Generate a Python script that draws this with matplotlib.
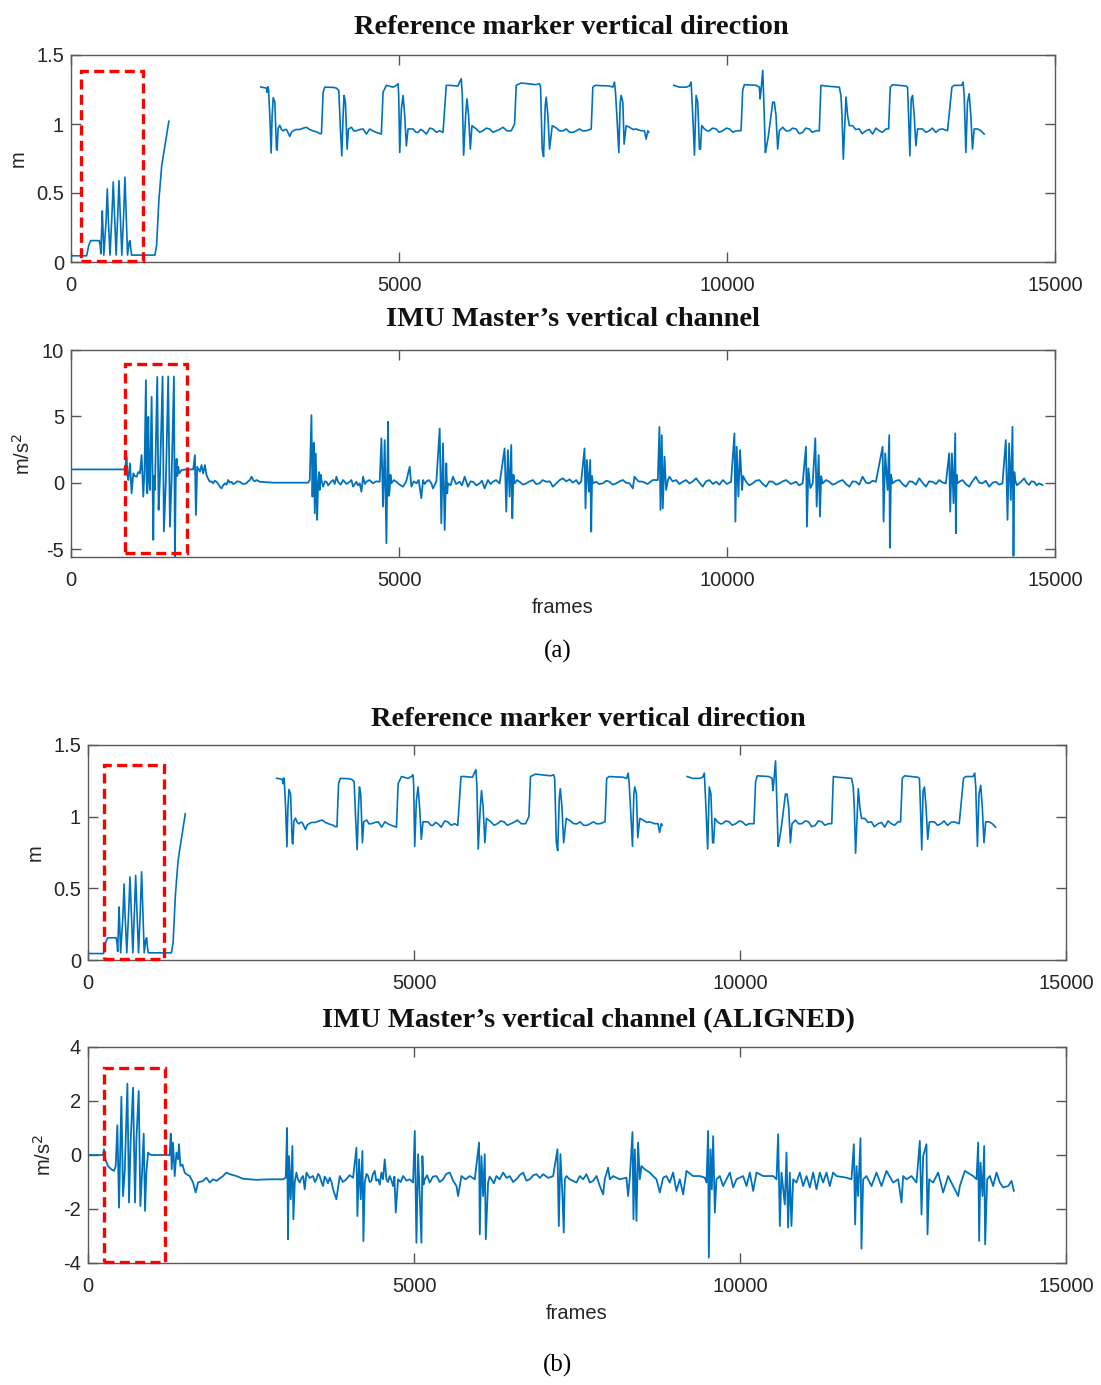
import matplotlib
matplotlib.use("Agg")
import matplotlib.pyplot as plt
from matplotlib.patches import Rectangle

# ---------------- data (frames, value) ----------------
marker_seg1 = [(0, 0.045), (239, 0.045), (270, 0.12), (300, 0.155), (431, 0.155), (445, 0.12),
               (455, 0.06), (465, 0.2), (477, 0.37), (490, 0.2), (500, 0.05), (535, 0.3),
               (553, 0.53), (570, 0.3), (595, 0.05), (625, 0.35), (644, 0.58), (663, 0.35),
               (688, 0.05), (713, 0.35), (731, 0.59), (750, 0.35), (775, 0.05), (803, 0.35),
               (822, 0.615), (841, 0.35), (862, 0.05), (885, 0.14), (899, 0.155), (910, 0.10),
               (925, 0.05), (1279, 0.05), (1305, 0.12), (1340, 0.45), (1381, 0.69), (1400, 0.75),
               (1492, 1.02)]

marker_seg2 = [(2894, 1.268), (2980, 1.26), (2990, 1.23), (3000, 1.27), (3010, 1.26), (3031, 1.06),
               (3051, 0.79), (3066, 1.06), (3082, 1.19), (3107, 1.16), (3132, 0.82), (3142, 0.81),
               (3158, 0.97), (3183, 0.99), (3209, 0.96), (3234, 0.95), (3260, 0.96), (3285, 0.96),
               (3335, 0.91), (3360, 0.94), (3386, 0.95), (3430, 0.96), (3488, 0.96), (3540, 0.97),
               (3589, 0.976), (3640, 0.96), (3691, 0.95), (3760, 0.94), (3792, 0.93), (3818, 0.93),
               (3843, 1.23), (3869, 1.267), (4000, 1.265), (4046, 1.26), (4082, 1.243), (4107, 0.964),
               (4128, 0.769), (4148, 1.061), (4163, 1.207), (4183, 1.158), (4209, 0.818), (4229, 0.964),
               (4275, 0.976), (4310, 0.95), (4351, 0.951), (4400, 0.96), (4453, 0.964), (4503, 0.927),
               (4554, 0.964), (4600, 0.95), (4655, 0.939), (4731, 0.927), (4757, 1.231), (4808, 1.280),
               (4909, 1.267), (4960, 1.280), (4985, 1.292), (4995, 1.22), (5011, 0.793), (5036, 1.109),
               (5062, 1.207), (5087, 1.061), (5112, 0.842), (5138, 0.964), (5214, 0.964), (5260, 0.94),
               (5290, 0.939), (5330, 0.96), (5366, 0.951), (5417, 0.927), (5470, 0.97), (5518, 0.964),
               (5570, 0.94), (5620, 0.951), (5671, 0.939), (5721, 1.280), (5772, 1.280), (5899, 1.275),
               (5924, 1.304), (5950, 1.328), (5965, 1.207), (5985, 0.774), (6016, 1.061), (6036, 1.182),
               (6061, 1.061), (6087, 0.818), (6112, 0.988), (6178, 0.964), (6230, 0.94), (6280, 0.951),
               (6330, 0.97), (6381, 0.964), (6430, 0.94), (6483, 0.951), (6530, 0.96), (6584, 0.976),
               (6650, 0.95), (6711, 0.951), (6762, 1.0), (6787, 1.280), (6863, 1.297), (7092, 1.285),
               (7143, 1.292), (7158, 1.267), (7183, 0.818), (7204, 0.764), (7229, 1.134), (7244, 1.195),
               (7270, 1.061), (7295, 0.818), (7336, 0.988), (7400, 0.97), (7447, 0.951), (7500, 0.95),
               (7549, 0.964), (7600, 0.94), (7650, 0.939), (7700, 0.95), (7752, 0.964), (7800, 0.95),
               (7854, 0.951), (7930, 0.964), (7955, 1.267), (7991, 1.280), (8209, 1.275), (8260, 1.267),
               (8285, 1.304), (8300, 1.231), (8321, 1.061), (8351, 0.793), (8372, 1.158), (8387, 1.207),
               (8412, 1.158), (8432, 0.854), (8463, 0.988), (8514, 0.976), (8570, 0.96), (8615, 0.964),
               (8691, 0.951), (8742, 0.951), (8767, 0.89), (8793, 0.951), (8808, 0.94)]

marker_seg3 = [(9189, 1.280), (9275, 1.267), (9376, 1.267), (9427, 1.275), (9453, 1.304), (9478, 1.061),
               (9504, 0.774), (9529, 1.207), (9554, 1.158), (9580, 0.818), (9595, 0.818), (9615, 0.988),
               (9656, 0.964), (9700, 0.95), (9732, 0.951), (9780, 0.97), (9834, 0.964), (9880, 0.94),
               (9935, 0.951), (9990, 0.97), (10037, 0.964), (10090, 0.94), (10138, 0.951), (10214, 0.951),
               (10239, 1.243), (10265, 1.285), (10443, 1.280), (10493, 1.267), (10504, 1.182), (10519, 1.243),
               (10545, 1.389), (10560, 1.182), (10585, 0.793), (10605, 0.842), (10631, 0.915), (10671, 1.061),
               (10697, 1.158), (10722, 1.158), (10747, 1.061), (10773, 0.818), (10798, 0.951), (10849, 0.976),
               (10900, 0.95), (10950, 0.951), (11000, 0.97), (11052, 0.964), (11100, 0.93), (11153, 0.939),
               (11200, 0.97), (11255, 0.964), (11300, 0.94), (11357, 0.951), (11407, 0.951), (11432, 1.280),
               (11509, 1.275), (11712, 1.267), (11737, 1.207), (11753, 1.061), (11773, 0.745), (11793, 0.964),
               (11814, 1.195), (11839, 1.061), (11864, 0.988), (11915, 0.988), (11960, 0.96), (12016, 0.964),
               (12060, 0.93), (12118, 0.951), (12170, 0.96), (12219, 0.927), (12270, 0.97), (12321, 0.951),
               (12370, 0.94), (12423, 0.964), (12463, 0.964), (12489, 1.267), (12524, 1.285), (12727, 1.275),
               (12752, 1.267), (12768, 1.061), (12788, 0.769), (12808, 1.182), (12829, 1.207), (12854, 1.061),
               (12879, 0.842), (12905, 0.964), (12981, 0.964), (13030, 0.94), (13083, 0.951), (13130, 0.97),
               (13184, 0.939), (13235, 0.96), (13285, 0.964), (13362, 0.951), (13428, 1.267), (13463, 1.280),
               (13575, 1.280), (13600, 1.304), (13616, 1.207), (13641, 0.793), (13666, 1.158), (13692, 1.219),
               (13717, 1.061), (13742, 0.818), (13768, 0.964), (13819, 0.964), (13869, 0.951), (13920, 0.927)]

imu_raw = [(0, 1.0), (822, 1.0), (848, 1.95), (860, 0.6), (873, 0.2), (899, 1.46), (924, -0.80),
           (949, 0.70), (975, 0.5), (1000, 0.45), (1025, 0.8), (1051, 0.70), (1076, 2.08), (1102, -1.05),
           (1120, 0.9), (1142, 7.72), (1152, 0.2), (1163, -0.80), (1178, 4.96), (1190, 0.3), (1203, -0.55),
           (1229, 6.47), (1254, -4.31), (1265, 0.5), (1279, -0.55), (1315, 7.97), (1335, -2.05),
           (1355, 0.20), (1396, 8.0), (1416, -3.68), (1447, 0.20), (1482, 8.0), (1508, -3.31),
           (1533, 0.20), (1569, 8.0), (1584, -5.56), (1599, 0.95), (1610, 1.8), (1620, 0.5), (1635, 1.20),
           (1650, 0.7), (1686, 0.95), (1762, 1.0), (1863, 1.0), (1889, 2.08), (1904, -2.43), (1924, 1.20),
           (1965, 0.83), (1990, 1.33), (2015, 0.70), (2041, 1.33), (2066, 0.58), (2090, 0.3), (2117, 0.07),
           (2140, 0.1), (2168, -0.05), (2190, 0.15), (2219, 0.07), (2245, -0.1), (2269, -0.30),
           (2295, -0.43), (2320, -0.2), (2345, -0.05), (2370, -0.15), (2396, 0.20), (2420, 0.0),
           (2447, 0.07), (2470, -0.1), (2498, -0.05), (2530, 0.1), (2574, 0.07), (2620, -0.1),
           (2675, -0.05), (2700, 0.1), (2726, 0.20), (2752, 0.45), (2777, 0.20), (2800, 0.1),
           (2828, 0.20), (2878, 0.07), (3082, 0.0), (3386, 0.0), (3615, 0.0), (3640, 0.20),
           (3665, 5.09), (3681, -1.05), (3690, 1.2), (3701, 3.0), (3716, -2.3), (3731, 2.2), (3752, -2.8),
           (3767, -0.05), (3780, 0.8), (3792, -0.55), (3805, 0.6), (3818, 0.20), (3843, -0.30),
           (3870, 0.1), (3894, 0.07), (3920, -0.2), (3945, -0.05), (3970, 0.1), (3995, 0.20),
           (4020, -0.1), (4046, 0.45), (4071, 0.07), (4110, -0.15), (4148, 0.20), (4200, -0.1),
           (4249, 0.07), (4275, 0.2), (4300, -0.30), (4351, 0.07), (4375, -0.2), (4401, -0.05),
           (4427, -0.68), (4452, 0.45), (4480, -0.1), (4503, 0.07), (4550, 0.2), (4605, -0.05),
           (4650, 0.1), (4706, 0.07), (4732, 3.34), (4757, -1.80), (4782, 3.21), (4808, -4.56),
           (4833, 4.59), (4845, -1.0), (4858, -0.55), (4870, 0.6), (4884, -0.05), (4920, 0.2),
           (4960, 0.07), (5010, -0.15), (5061, -0.30), (5110, 0.1), (5163, 1.20), (5188, -0.30),
           (5225, 0.1), (5265, -0.05), (5300, 0.2), (5341, -1.17), (5366, 0.20), (5390, -0.1),
           (5417, 0.07), (5455, 0.2), (5493, -0.05), (5518, -0.43), (5570, 0.1), (5620, 4.08),
           (5645, -3.05), (5671, 2.96), (5696, -3.56), (5721, 1.46), (5735, -0.8), (5747, -0.05),
           (5785, -0.2), (5823, 0.45), (5870, -0.1), (5924, 0.07), (5960, -0.2), (6001, 0.45),
           (6051, -0.30), (6090, 0.1), (6128, 0.07), (6180, -0.2), (6229, -0.05), (6265, 0.15),
           (6305, -0.43), (6356, 0.20), (6395, -0.1), (6432, 0.07), (6480, 0.2), (6534, -0.05),
           (6610, 2.58), (6635, -2.18), (6660, 2.46), (6686, -1.05), (6711, 2.84), (6727, -2.68),
           (6745, 0.6), (6762, -0.05), (6800, 0.2), (6838, 0.07), (6890, -0.15), (6940, -0.05),
           (6990, 0.1), (7041, 0.20), (7090, -0.1), (7143, -0.05), (7190, 0.2), (7244, 0.07),
           (7300, 0.1), (7346, -0.30), (7397, -0.05), (7450, 0.2), (7498, 0.33), (7550, 0.1),
           (7600, 0.25), (7650, 0.0), (7701, 0.20), (7740, -0.1), (7777, 0.07), (7828, 2.58),
           (7843, -1.93), (7864, 1.71), (7894, -0.68), (7915, 1.71), (7930, -3.68), (7943, 0.5),
           (7955, -0.05), (8006, 0.07), (8050, -0.1), (8107, -0.05), (8160, 0.15), (8209, 0.07),
           (8260, -0.15), (8311, -0.05), (8360, 0.1), (8412, 0.20), (8460, 0.0), (8514, -0.05),
           (8564, -0.43), (8590, 0.45), (8650, 0.1), (8717, 0.07), (8790, -0.1), (8869, 0.20),
           (8945, 0.20), (8970, 4.2), (8986, -2.05), (9006, 3.58), (9021, -1.93), (9047, 1.96),
           (9072, -0.55), (9100, 0.2), (9123, 0.45), (9170, 0.1), (9224, 0.20), (9275, -0.1),
           (9326, 0.07), (9375, 0.2), (9427, -0.05), (9480, 0.1), (9529, 0.33), (9580, 0.0),
           (9630, -0.30), (9680, 0.1), (9732, 0.20), (9785, -0.1), (9834, 0.07), (9885, -0.15),
           (9935, 0.20), (10000, -0.1), (10062, 0.07), (10113, 3.71), (10128, -2.93), (10148, 2.71),
           (10174, -1.05), (10199, 2.46), (10230, -0.55), (10245, 0.5), (10290, 0.07), (10340, -0.2),
           (10392, -0.05), (10440, 0.15), (10493, 0.20), (10545, -0.1), (10595, -0.30), (10645, 0.1),
           (10697, 0.07), (10750, -0.15), (10798, -0.05), (10850, 0.1), (10900, 0.20), (10975, -0.1),
           (11052, 0.07), (11100, -0.2), (11153, -0.05), (11204, 2.71), (11219, -3.31), (11240, 1.08),
           (11270, -0.4), (11306, -0.05), (11346, 3.34), (11367, -1.80), (11397, 2.08), (11417, -2.55),
           (11435, 0.5), (11458, -0.05), (11510, 0.2), (11560, 0.07), (11610, -0.15), (11661, -0.05),
           (11710, 0.1), (11763, 0.20), (11815, -0.1), (11864, -0.30), (11915, 0.1), (11966, 0.07),
           (12015, -0.15), (12067, 0.45), (12120, 0.0), (12169, -0.05), (12220, 0.15), (12270, 0.07),
           (12372, 2.71), (12387, -2.93), (12412, 2.21), (12448, -0.55), (12473, 3.58), (12483, -4.9),
           (12500, 0.6), (12524, -0.05), (12575, 0.15), (12626, 0.20), (12675, -0.1), (12727, -0.30),
           (12780, 0.1), (12829, 0.07), (12880, -0.15), (12930, 0.33), (12980, 0.0), (13032, -0.30),
           (13080, 0.1), (13133, 0.07), (13185, -0.1), (13235, 0.20), (13290, 0.0), (13336, -0.05),
           (13387, 2.21), (13402, -2.18), (13428, 2.21), (13453, -1.55), (13479, 3.71), (13489, -3.81),
           (13500, 0.6), (13514, -0.05), (13550, 0.1), (13590, 0.20), (13640, -0.1), (13692, -0.30),
           (13740, 0.1), (13793, 0.45), (13845, 0.0), (13895, -0.05), (13945, 0.15), (13996, -0.30),
           (14050, 0.0), (14098, 0.07), (14150, -0.15), (14199, -0.05), (14250, 3.21), (14276, -2.80),
           (14301, 2.96), (14326, -1.30), (14352, 4.21), (14367, -5.51), (14380, 0.8), (14392, 0.20),
           (14420, -0.2), (14453, -0.05), (14490, 0.1), (14529, 0.33), (14565, 0.0), (14605, -0.17),
           (14640, 0.1), (14682, 0.07), (14720, -0.2), (14758, -0.05), (14808, -0.17)]

imu_aligned = [(0, 0.0), (230, 0.0), (246, 0.21), (266, -0.16), (307, -0.41), (358, -0.53), (399, -0.59),
               (425, -0.41), (450, 1.10), (476, -1.95), (512, 2.16), (537, -1.52), (563, -0.65),
               (604, 2.64), (629, -1.76), (655, 0.58), (691, 2.49), (721, -1.76), (742, 0.58), (778, 2.37),
               (803, -1.89), (829, -0.65), (854, 0.79), (875, -2.07), (895, -0.65), (921, 0.09), (946, 0.03),
               (972, 0.0), (1253, 0.0), (1269, 0.79), (1284, -0.53), (1304, 0.46), (1330, -0.78),
               (1356, 0.09), (1381, -0.16), (1396, 0.40), (1417, -0.41), (1448, -0.35), (1483, -0.65),
               (1509, -0.71), (1560, -0.78), (1611, -1.02), (1652, -1.39), (1688, -1.02), (1765, -0.96),
               (1816, -0.84), (1867, -1.02), (1918, -0.90), (1969, -0.96), (2071, -0.78), (2123, -0.65),
               (2174, -0.71), (2276, -0.78), (2378, -0.88), (2583, -0.92), (2787, -0.90), (2992, -0.90),
               (3033, -0.84), (3053, 1.0), (3068, -3.12), (3084, -0.04), (3109, -1.64), (3135, 0.33),
               (3150, -2.38), (3171, -1.02), (3196, -0.65), (3220, -0.9), (3247, -1.02), (3275, -0.85),
               (3299, -0.78), (3324, -1.27), (3350, -0.65), (3400, -0.85), (3452, -0.78), (3480, -1.0),
               (3503, -0.90), (3530, -0.7), (3554, -0.78), (3580, -1.0), (3605, -1.15), (3630, -0.8),
               (3657, -0.90), (3680, -1.05), (3708, -0.84), (3735, -1.0), (3759, -1.27), (3810, -1.64),
               (3861, -0.78), (3910, -1.0), (3963, -0.90), (4010, -0.75), (4066, -0.84),
               (4117, 0.27), (4132, -2.26), (4158, -0.16), (4183, -1.64), (4209, 0.15), (4224, -3.19),
               (4245, -1.02), (4270, -0.7), (4296, -0.78), (4320, -1.0), (4347, -0.96), (4370, -0.7),
               (4398, -0.59), (4420, -0.95), (4449, -0.90), (4475, -1.1), (4500, -0.65), (4525, -0.9),
               (4551, -0.16), (4577, -0.90), (4600, -1.0), (4628, -0.78), (4655, -0.95), (4679, -1.15),
               (4700, -0.8), (4720, -2.13), (4756, -0.90), (4795, -1.0), (4833, -0.78), (4885, -0.95),
               (4935, -0.90), (4986, -1.02), (5012, 0.89), (5037, -3.25), (5063, 0.03),
               (5088, -1.52), (5114, -3.25), (5129, -0.04), (5145, -1.1), (5165, -0.90), (5200, -0.75),
               (5242, -1.02), (5290, -0.8), (5344, -0.78), (5395, -1.0), (5446, -0.90), (5495, -0.7),
               (5548, -0.65), (5600, -0.95), (5651, -1.15), (5676, -1.52), (5727, -0.78), (5790, -0.9),
               (5855, -0.78), (5932, -0.90), (5998, 0.46), (6009, -2.94), (6034, -0.04), (6060, -1.52),
               (6085, 0.03), (6101, -3.12), (6136, -1.02), (6160, -0.8), (6188, -0.90), (6225, -1.05),
               (6264, -0.78), (6315, -0.9), (6367, -0.65), (6420, -0.85), (6469, -0.78), (6520, -1.0),
               (6571, -0.90), (6620, -0.75), (6673, -0.65), (6725, -0.95), (6776, -0.90), (6830, -0.75),
               (6878, -0.71), (6930, -0.85), (6980, -0.71), (7060, -0.85), (7134, -0.78),
               (7200, 0.21), (7221, -2.63), (7246, 0.03), (7277, -1.52), (7297, -2.87), (7313, -0.90),
               (7338, -0.78), (7389, -0.90), (7440, -0.96), (7492, -1.02), (7543, -0.78), (7594, -0.90),
               (7645, -0.71), (7696, -1.02), (7747, -0.96), (7799, -0.78), (7850, -1.15), (7901, -1.46),
               (7926, -0.90), (7977, -0.47), (8003, -0.90), (8054, -0.78), (8156, -0.90), (8258, -0.84),
               (8284, -1.52), (8310, -0.84), (8351, 0.85), (8366, -2.38), (8387, 0.21), (8412, -2.44),
               (8437, 0.46), (8463, -0.90), (8489, -0.41), (8540, -0.53), (8617, -0.65), (8668, -0.78),
               (8719, -0.90), (8770, -1.39), (8821, -0.84), (8872, -0.78), (8923, -1.02), (8974, -0.65),
               (9025, -1.33), (9077, -0.90), (9128, -1.46), (9179, -0.59), (9281, -0.78), (9384, -0.78),
               (9460, -0.84), (9486, -1.02), (9511, 0.89), (9522, -3.80), (9547, 0.21), (9568, -1.27),
               (9588, 0.70), (9614, -2.13), (9639, -0.90), (9690, -0.78), (9741, -1.15), (9793, -0.90),
               (9844, -0.65), (9895, -1.20), (9946, -0.90), (10048, -0.78), (10100, -1.15), (10151, -0.65),
               (10202, -1.33), (10253, -0.65), (10355, -0.78), (10508, -0.78), (10560, -0.90), (10585, 0.77),
               (10611, -2.63), (10636, -0.65), (10687, -1.83), (10713, 0.09), (10738, -2.69), (10764, -0.65),
               (10789, -2.63), (10815, -0.90), (10866, -1.02), (10917, -0.65), (10968, -1.15), (11020, -0.78),
               (11071, -1.20), (11122, -0.65), (11173, -1.27), (11224, -0.65), (11275, -1.02), (11326, -0.65),
               (11377, -1.15), (11428, -0.65), (11480, -0.78), (11633, -0.84), (11710, -0.90), (11746, 0.40),
               (11766, -2.57), (11787, -0.41), (11812, -1.52), (11848, 0.62), (11863, -3.47), (11889, -0.90),
               (11940, -0.78), (12017, -1.15), (12093, -0.65), (12170, -1.15), (12247, -0.59), (12349, -1.02),
               (12426, -0.90), (12477, -1.76), (12502, -0.78), (12554, -0.90), (12630, -0.78), (12707, -1.02),
               (12758, 0.52), (12784, -2.20), (12809, -0.04), (12860, 0.40), (12876, -2.94), (12901, -0.90),
               (12962, -1.02), (13039, -0.65), (13116, -1.39), (13192, -0.78), (13269, -1.15), (13346, -1.52),
               (13372, -1.15), (13448, -0.59), (13576, -0.78), (13628, -0.90), (13653, 0.46), (13668, -3.18),
               (13689, -0.28), (13720, -1.52), (13745, 0.33), (13760, -3.31), (13791, -0.90), (13832, -0.78),
               (13883, -1.15), (13934, -0.65), (13985, -1.02), (14036, -1.20), (14113, -1.15), (14165, -0.96),
               (14200, -1.33)]

# highlight boxes (x0, x1, y0, y1) in data units
box_a_top = (152, 1101, 0.005, 1.385)
box_a_bot = (822, 1771, -5.31, 8.92)
box_b_top = (244, 1158, 0.005, 1.36)
box_b_bot = (244, 1174, -3.98, 3.21)

titles = ["Reference marker vertical direction",
          "IMU Master\u2019s vertical channel",
          "Reference marker vertical direction",
          "IMU Master\u2019s vertical channel (ALIGNED)"]
xticks = [0, 5000, 10000, 15000]

# ---------------- figure ----------------
W, H = 1101, 1385
fig = plt.figure(figsize=(W / 100, H / 100), dpi=100)
fig.patch.set_facecolor("white")

LINE = "#0072BD"
SANS = "Liberation Sans"
SERIF = "Liberation Serif"


def mk_ax(l, r, t, b):
    return fig.add_axes([l / W, 1 - b / H, (r - l) / W, (b - t) / H])


ax1 = mk_ax(71, 1055, 55, 262)
ax2 = mk_ax(71, 1055, 350, 557)
ax3 = mk_ax(88, 1066, 745, 960)
ax4 = mk_ax(88, 1066, 1047, 1263)


def style(ax, ylim, yticks, ylabel, xlabel=None):
    ax.set_xlim(0, 15000)
    ax.set_ylim(*ylim)
    ax.set_xticks(xticks)
    ax.set_xticklabels([str(v) for v in xticks])
    ax.set_yticks(yticks)
    ax.set_yticklabels([("%g" % v) for v in yticks])
    ax.tick_params(direction="in", length=7, width=1.0, top=True, right=True,
                   colors="#555555", labelcolor="#262626", labelsize=14.5)
    ax.tick_params(axis="x", pad=10)
    ax.tick_params(axis="y", pad=5)
    for lab in ax.get_xticklabels() + ax.get_yticklabels():
        lab.set_fontfamily(SANS)
    for s in ax.spines.values():
        s.set_color("#5a5a5a")
        s.set_linewidth(1.0)
    ax.set_ylabel(ylabel, fontsize=14.5, family=SANS, color="#262626", labelpad=6)
    if xlabel:
        ax.set_xlabel(xlabel, fontsize=14.5, family=SANS, color="#262626", labelpad=6)


def plot_pairs(ax, pairs, lw=1.0):
    xs = [p[0] for p in pairs]
    ys = [p[1] for p in pairs]
    ax.plot(xs, ys, color=LINE, lw=lw, solid_joinstyle="round")


def box(ax, b):
    x0, x1, y0, y1 = b
    ax.add_patch(Rectangle((x0, y0), x1 - x0, y1 - y0, fill=False, edgecolor="#FF0000",
                           lw=2.4, linestyle=(0, (3, 1.6)), clip_on=False, zorder=5))


for ax in (ax1, ax3):
    plot_pairs(ax, marker_seg1, lw=1.2)
    plot_pairs(ax, marker_seg2, lw=1.2)
    plot_pairs(ax, marker_seg3, lw=1.2)
plot_pairs(ax2, imu_raw, lw=1.3)
plot_pairs(ax4, imu_aligned, lw=1.3)

style(ax1, (0, 1.5), [0, 0.5, 1, 1.5], "m")
style(ax2, (-5.6, 10), [-5, 0, 5, 10], "m/s$^2$", "frames")
style(ax3, (0, 1.5), [0, 0.5, 1, 1.5], "m")
style(ax4, (-4, 4), [-4, -2, 0, 2, 4], "m/s$^2$", "frames")

box(ax1, box_a_top)
box(ax2, box_a_bot)
box(ax3, box_b_top)
box(ax4, box_b_bot)

title_pos = [(571, 28), (573, 320), (588, 719), (588, 1021)]
for (x, y), t in zip(title_pos, titles):
    fig.text(x / W, 1 - y / H, t, ha="center", va="center", fontsize=20.5,
             fontweight="bold", family=SERIF, color="#111111")

fig.text(558 / W, 1 - 651 / H, "(a)", ha="center", va="center", fontsize=18, family=SERIF)
fig.text(558 / W, 1 - 1365 / H, "(b)", ha="center", va="center", fontsize=18, family=SERIF)

fig.savefig("out.png", dpi=100, facecolor="white")
